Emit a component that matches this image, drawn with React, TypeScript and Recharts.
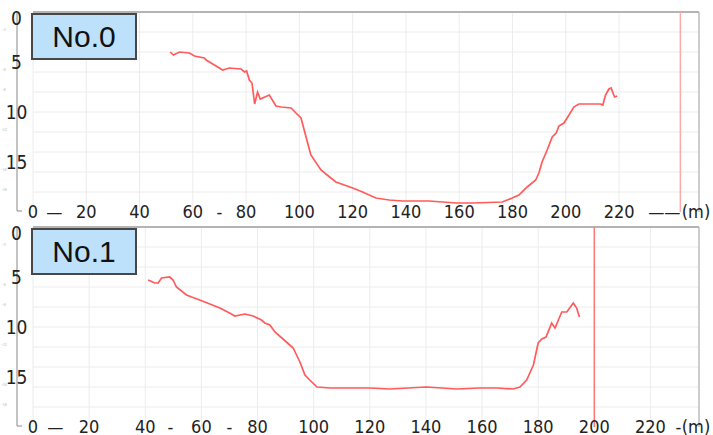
import React from 'react';
import { LineChart, Line, XAxis, YAxis, ReferenceLine } from 'recharts';

// section No.0: distance (m) and depth
const dist0 = [51.5, 52.7, 55, 58.7, 60.6, 64.3, 65, 71.2, 73.7, 78.1, 79.4, 80.2, 81.2, 82.2, 83.2, 84.3, 85.3, 88.7, 91.2, 93.1, 96.9, 98.7, 100.6, 101.8, 103.1, 104.3, 108.1, 111.8, 113.7, 120, 123.7, 128.7, 133.7, 138.7, 148.7, 158.7, 165, 176.2, 179.9, 182.4, 185.5, 188.7, 189.9, 191.1, 193, 194.9, 196.4, 197.4, 199.3, 201.2, 203, 204.9, 213, 213.9, 214.9, 216.2, 217, 218.3, 219.3];
const depth0 = [4.0, 4.3, 4.0, 4.1, 4.4, 4.6, 4.8, 5.8, 5.6, 5.7, 6.0, 5.9, 6.8, 7.1, 9.2, 8.0, 8.7, 8.3, 9.4, 9.5, 9.6, 10.1, 10.6, 11.8, 13.1, 14.3, 15.8, 16.6, 17.0, 17.6, 18.0, 18.6, 18.8, 18.9, 18.9, 19.1, 19.1, 19.0, 18.6, 18.3, 17.5, 16.8, 16.1, 15.0, 13.8, 12.5, 12.1, 11.4, 11.1, 10.3, 9.5, 9.2, 9.2, 9.3, 8.3, 7.7, 7.6, 8.5, 8.4];

// section No.1
const dist1 = [41, 43.4, 44.6, 45.8, 48.7, 49.9, 51.1, 54.7, 56.5, 59.4, 66.6, 70.7, 71.9, 75.5, 78.4, 81.4, 82.6, 84.4, 86.2, 90.3, 92.7, 95.1, 96.9, 98.6, 101.2, 105.8, 120, 127.1, 140.2, 150.9, 159.2, 165.2, 171.1, 173.5, 175.9, 178.3, 180, 181.3, 182.8, 184.8, 186, 188.4, 190.2, 192.5, 193.7, 194.7];
const depth1 = [5.3, 5.6, 5.6, 5.1, 5.0, 5.3, 6.0, 6.8, 7.0, 7.3, 8.1, 8.7, 8.9, 8.7, 8.9, 9.3, 9.6, 9.8, 10.5, 11.5, 12.1, 13.5, 14.8, 15.3, 16.0, 16.1, 16.1, 16.2, 16.0, 16.2, 16.1, 16.1, 16.2, 16.0, 15.3, 13.8, 11.6, 11.2, 11.0, 9.6, 10.1, 8.5, 8.5, 7.6, 8.1, 9.0];

const xTicks0 = [0, 8, 20, 40, 60, 70, 80, 100, 120, 140, 160, 180, 200, 220, 237];
const xTickLabels0 = ['0', '—', '20', '40', '60', '-', '80', '100', '120', '140', '160', '180', '200', '220', '——'];
const xTicks1 = [0, 8, 20, 40, 49, 60, 70, 80, 100, 120, 140, 160, 180, 200, 220, 230];
const xTickLabels1 = ['0', '—', '20', '40', '-', '60', '-', '80', '100', '120', '140', '160', '180', '200', '220', '-'];

const gridX = [0, 20, 40, 60, 80, 100, 120, 140, 160, 180, 200, 220];
const gridY = [2, 4, 6, 8, 10, 12, 14, 16, 18];
const yTicks = [0, 2, 5, 6, 8, 10, 12, 15, 16, 18];
const bigY = [0, 5, 10, 15];

const labelFont = "'Liberation Sans Narrow', 'DejaVu Sans Condensed', 'Noto Sans CJK JP', sans-serif";

const YTick = (props: any) => {
  const { y, payload, index } = props;
  const v = payload.value;
  return (
    <g>
      {index === 0 && <line x1={17} x2={17} y1={y} y2={y + 199} stroke="#888" strokeWidth={1} />}
      {index === 0 && <line x1={17} x2={22} y1={y + 199} y2={y + 199} stroke="#888" strokeWidth={1} />}
      {bigY.includes(v) ? (
        <text x={16.5} y={v === 0 ? y + 6 : y} textAnchor="middle" dominantBaseline="central"
          fontSize={19} fontFamily={labelFont} fill="#222">{v}</text>
      ) : (
        <text x={4} y={y - 1} textAnchor="middle" fontSize={4} fill="#aaa">{'-' + v}</text>
      )}
    </g>
  );
};

const makeXTick = (labels: string[], last: number) => (props: any) => {
  const { x, y, index } = props;
  return (
    <g>
      <text x={x} y={y - 1} textAnchor="middle" dominantBaseline="central"
        fontSize={18} fontFamily={labelFont} fill="#222">{labels[index]}</text>
      {index === last && (
        <text x={696} y={y - 1} textAnchor="middle" dominantBaseline="central"
          fontSize={18} fontFamily={labelFont} fill="#222">(m)</text>
      )}
    </g>
  );
};

const Panel = ({ name, dist, depth, xMax, ticks, labels, redX, redColor }: any) => {
  const data = dist.map((d: number, i: number) => ({ dist: d, depth: depth[i] }));
  return (
    <div style={{ position: 'relative', width: 713, height: 227 }}>
      <LineChart width={713} height={227} data={data} margin={{ top: 12, right: 14, bottom: 14, left: 32 }}>
        <XAxis type="number" dataKey="dist" domain={[0, xMax]} ticks={ticks} interval={0} height={1}
          axisLine={false} tickLine={false} tickSize={0} tickMargin={0} tick={makeXTick(labels, ticks.length - 1)} />
        <YAxis type="number" domain={[0, 20]} reversed ticks={yTicks} interval={0} width={1}
          axisLine={false} tickLine={false} tickSize={0} tickMargin={0} tick={<YTick />} />
        {gridY.map((v) => <ReferenceLine key={'h' + v} y={v} stroke="#ececec" />)}
        {gridX.map((v) => <ReferenceLine key={'v' + v} x={v} stroke="#ececec" />)}
        <ReferenceLine y={0} stroke="#b4b4b4" strokeWidth={2} />
        <ReferenceLine x={xMax} stroke="#bcbcbc" strokeWidth={1.5} />
        <ReferenceLine x={redX} stroke={redColor} strokeWidth={1.5} />
        <Line type="linear" dataKey="depth" stroke="#ff5b5b" strokeWidth={1.7} dot={false} isAnimationActive={false} />
      </LineChart>
      <div style={{
        position: 'absolute', left: 31, top: 13, width: 102, height: 43, boxSizing: 'content-box',
        border: '2px solid #474747', background: '#bde0fb', display: 'flex', alignItems: 'center',
        justifyContent: 'center', fontFamily: "'Liberation Sans', Arial, sans-serif", fontSize: 30, color: '#111',
      }}>{name}</div>
    </div>
  );
}

export default function App() {
  return (
    <div style={{ position: 'relative', width: 713, height: 435, background: '#fff', overflow: 'hidden' }}>
      <style>{'body{margin:0}'}</style>
      <div style={{ position: 'absolute', left: 0, top: 0 }}>
        <Panel name="No.0" dist={dist0} depth={depth0} xMax={250} ticks={xTicks0} labels={xTickLabels0} redX={243} redColor="#ffaaaa" />
      </div>
      <div style={{ position: 'absolute', left: 0, top: 215 }}>
        <Panel name="No.1" dist={dist1} depth={depth1} xMax={237.3} ticks={xTicks1} labels={xTickLabels1} redX={200} redColor="#ff7474" />
      </div>
    </div>
  );
}
